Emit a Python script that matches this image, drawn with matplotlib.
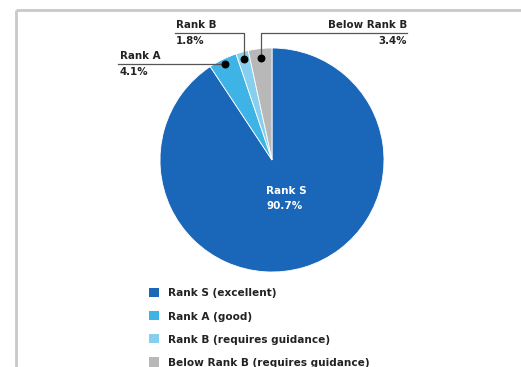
import matplotlib
matplotlib.use("Agg")
import matplotlib.pyplot as plt
import numpy as np

# ---- data ----
categories = ["Rank S", "Rank A", "Rank B", "Below Rank B"]
legend_labels = ["Rank S (excellent)", "Rank A (good)",
                 "Rank B (requires guidance)", "Below Rank B (requires guidance)"]
values = [90.7, 4.1, 1.8, 3.4]
colors = ["#1a66b8", "#3db3e6", "#86cfee", "#b8b8b8"]

W, H = 521, 367
plt.rcParams['font.family'] = ['DejaVu Sans']

fig = plt.figure(figsize=(W / 100, H / 100), dpi=100)
ax = fig.add_axes([0, 0, 1, 1])

def Y(py):
    return H - py

cx, cy, R = 272, Y(160), 112
wedges, _ = ax.pie(values, colors=colors, startangle=90, counterclock=False,
                   center=(cx, cy), radius=R,
                   wedgeprops=dict(linewidth=0.6, edgecolor="white"))
ax.set_xlim(0, W)
ax.set_ylim(0, H)
ax.set_aspect("equal")
ax.axis("off")

# frame lines (partial border as in reference)
ax.plot([16, W + 5], [Y(10), Y(10)], color="#c9c9c9", lw=2, solid_capstyle="butt")
ax.plot([16, 16], [Y(10), -5], color="#c9c9c9", lw=2, solid_capstyle="butt")

def dot_pos(w, frac):
    ang = np.deg2rad((w.theta1 + w.theta2) / 2)
    return cx + frac * R * np.cos(ang), cy + frac * R * np.sin(ang)

lc = "#555555"
tkw = dict(fontsize=7.4, fontweight="bold", color="#222222")

# Rank A: horizontal leader to the left
xa, ya = dot_pos(wedges[1], 0.955)
ax.plot([118, xa], [ya, ya], color=lc, lw=0.9)
ax.text(120, ya + 3, categories[1], ha="left", va="bottom", **tkw)
ax.text(120, ya - 3, f"{values[1]}%", ha="left", va="top", **tkw)

# Rank B: vertical then horizontal to the left
xb, yb = dot_pos(wedges[2], 0.94)
yl = Y(33)
ax.plot([xb, xb, 175], [yb, yl, yl], color=lc, lw=0.9)
ax.text(176, yl + 3, categories[2], ha="left", va="bottom", **tkw)
ax.text(176, yl - 3, f"{values[2]}%", ha="left", va="top", **tkw)

# Below Rank B: vertical then horizontal to the right
xc, yc = dot_pos(wedges[3], 0.92)
ax.plot([xc, xc, 407], [yc, yl, yl], color=lc, lw=0.9)
ax.text(407, yl + 3, categories[3], ha="right", va="bottom", **tkw)
ax.text(407, yl - 3, f"{values[3]}%", ha="right", va="top", **tkw)

ax.scatter([xa, xb, xc], [ya, yb, yc], s=22, color="black", zorder=5)

# center label
ax.text(286, Y(191), categories[0], ha="center", va="center",
        fontsize=7.5, fontweight="bold", color="white")
ax.text(285, Y(206), f"{values[0]}%", ha="center", va="center",
        fontsize=7.5, fontweight="bold", color="white")

leg = ax.legend(wedges, legend_labels, loc="upper left",
                bbox_to_anchor=(144 / W, Y(283) / H), frameon=False,
                handlelength=0.95, handleheight=0.95, handletextpad=0.8,
                labelspacing=1.22, borderpad=0,
                prop=dict(size=7.6, weight="bold"))
for t in leg.get_texts():
    t.set_color("#222222")
for h in leg.legend_handles:
    h.set_edgecolor("none")

fig.savefig("out.png", dpi=100, facecolor="white")
